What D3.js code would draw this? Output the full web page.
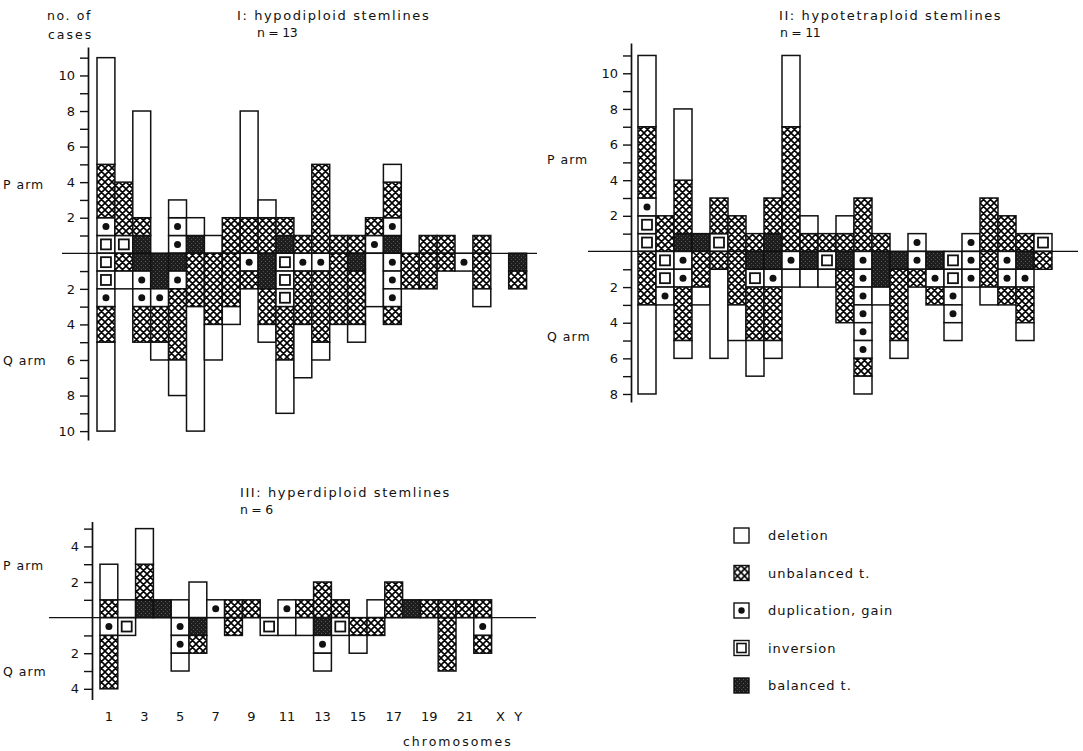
<!DOCTYPE html>
<html>
<head>
<meta charset="utf-8">
<style>
    body{ margin:0; background:#fff; }
    svg text{ font-family: "DejaVu Sans", sans-serif; fill:#111; }
    .lbl{ font-size:12.5px; letter-spacing:1px; }
    .ttl{ font-size:13px; letter-spacing:1.6px; }
    .tick text{ font-size:13px; }
</style>
</head>
<body>
<script src="https://d3js.org/d3.v7.min.js"></script>
<script>
// chromosome categories
var chromosomes = ["1","2","3","4","5","6","7","8","9","10","11","12","13","14","15","16","17","18","19","20","21","22","X","Y"];
var chromLabels = ["1","","3","","5","","7","","9","","11","","13","","15","","17","","19","","21","","X","Y"];

// one letter per case, from the centre line outwards
// D = deletion, U = unbalanced t., G = duplication/gain, I = inversion, B = balanced t.
var hypoP  = ["IGUUUDDDDDD","IUUU","BUDDDDDD","","GGD","BD","D","UU","UUDDDDDD","UUD","BU","U",
              "UUUUU","U","U","GU","BGUUD","","U","U","","U","",""];
var hypoQ  = ["IIGUUDDDDD","UD","BGGUU","BBGUUD","BGUUUUDD","UUUDDDDDDD","UUUUDD","UUUD","GU","BBUUD","IIIUUUDDD","GUUUDDD",
              "GUUUUD","UUUU","BUUUD","DDD","GGGU","UU","UU","U","G","UUD","","BU"];

var tetraP = ["IIGUUUUDDDD","UU","BUUUDDDD","B","IUU","UU","U","BUU","UUUUUUUDDDD","UD","U","UD",
              "UUU","U","","G","","","G","UUU","UU","U","I",""];
var tetraQ = ["UUUDDDDD","IIG","GGUUUD","UUD","UDDDDD","UUUDD","BIUUUDD","BGUUUD","GD","BD","ID","BUUU",
              "GGGGGGUD","BBD","BUUUUD","GU","BGU","IIGGD","GG","UUD","GGU","BGUUD","U",""];

var hyperP = ["UDD","D","BUUDD","B","D","DD","G","U","U","","G","U",
              "UU","U","","D","UU","B","U","U","U","U","",""];
var hyperQ = ["GUUU","I","","","GGD","BU","","U","","I","D","D",
              "BGD","I","UD","U","","","","UUU","","GU","",""];

var legendTypes  = ["D","U","G","I","B"];
var legendLabels = ["deletion","unbalanced t.","duplication, gain","inversion","balanced t."];

var svg = d3.select("body").append("svg")
    .attr("width", 1083)
    .attr("height", 751);

// patterns
var defs = svg.append("defs");
var hatch = defs.append("pattern")
    .attr("id", "hatch")
    .attr("patternUnits", "userSpaceOnUse")
    .attr("width", 7).attr("height", 7);
hatch.append("rect").attr("width", 7).attr("height", 7).attr("fill", "#fff");
hatch.append("path").attr("d", "M0,0 L7,7 M7,0 L0,7 M-1,6 L1,8 M6,-1 L8,1 M-1,1 L1,-1 M6,8 L8,6")
    .attr("stroke", "#000").attr("stroke-width", 1.6);

var dark = defs.append("pattern")
    .attr("id", "dark")
    .attr("patternUnits", "userSpaceOnUse")
    .attr("width", 4).attr("height", 4);
dark.append("rect").attr("width", 4).attr("height", 4).attr("fill", "#1e1e1e");
dark.append("rect").attr("x", 1).attr("y", 1).attr("width", 1).attr("height", 1).attr("fill", "#5a5a5a");
dark.append("rect").attr("x", 3).attr("y", 3).attr("width", 1).attr("height", 1).attr("fill", "#4a4a4a");

function fillFor(t){
    if (t === "U") return "url(#hatch)";
    if (t === "B") return "url(#dark)";
    return "#fff";
}

// merge runs of D/U/B, keep G and I as single boxes
function segments(str){
    var out = [];
    for (var i = 0; i < str.length; i++){
        var t = str[i];
        var last = out[out.length - 1];
        if (last && last.type === t && (t === "D" || t === "U" || t === "B")) last.end = i + 1;
        else out.push({type: t, start: i, end: i + 1});
    }
    return out;
}

function drawPanel(cfg){
    var x = d3.scaleBand().domain(chromosomes).range(cfg.xRange).padding(0);
    var y = d3.scaleLinear().domain(cfg.yDomain).range(cfg.yRange);
    var g = svg.append("g");

    var cells = [];
    chromosomes.forEach(function(c, i){
        segments(cfg.p[i]).forEach(function(s){ cells.push({chr: c, type: s.type, a: s.start, b: s.end}); });
        segments(cfg.q[i]).forEach(function(s){ cells.push({chr: c, type: s.type, a: -s.end, b: -s.start}); });
    });

    g.selectAll("rect.cell")
        .data(cells)
        .enter()
        .append("rect")
            .attr("class", "cell")
            .attr("x", d => x(d.chr))
            .attr("width", x.bandwidth())
            .attr("y", d => y(d.b))
            .attr("height", d => y(d.a) - y(d.b))
            .attr("fill", d => fillFor(d.type))
            .attr("stroke", "#111")
            .attr("stroke-width", 1.5);

    // dots for gains
    g.selectAll("circle")
        .data(cells.filter(d => d.type === "G"))
        .enter()
        .append("circle")
            .attr("cx", d => x(d.chr) + x.bandwidth() / 2)
            .attr("cy", d => y((d.a + d.b) / 2))
            .attr("r", 3.5)
            .attr("fill", "#111");

    // little squares for inversions
    g.selectAll("rect.inv")
        .data(cells.filter(d => d.type === "I"))
        .enter()
        .append("rect")
            .attr("class", "inv")
            .attr("x", d => x(d.chr) + x.bandwidth() / 2 - 5)
            .attr("y", d => y((d.a + d.b) / 2) - 5)
            .attr("width", 10).attr("height", 10)
            .attr("fill", "#fff")
            .attr("stroke", "#111")
            .attr("stroke-width", 1.8);

    // centre line
    g.append("line")
        .attr("x1", cfg.zeroLine[0]).attr("x2", cfg.zeroLine[1])
        .attr("y1", y(0)).attr("y2", y(0))
        .attr("stroke", "#111").attr("stroke-width", 1.3);

    // y axis
    var ax = g.append("g")
        .attr("transform", "translate(" + cfg.axisX + ",0)")
        .call(d3.axisLeft(y)
            .tickValues(cfg.ticks)
            .tickFormat(d => d % 2 === 0 ? Math.abs(d) : "")
            .tickSize(8)
            .tickSizeOuter(0)
            .tickPadding(5));
    ax.select(".domain").attr("stroke", "#111").attr("stroke-width", 1.7);
    ax.selectAll(".tick line").attr("stroke", "#111").attr("stroke-width", 1.4);
    ax.selectAll(".tick text").attr("fill", "#111");

    g.append("text").attr("class", "lbl").attr("x", cfg.armX).attr("y", y(cfg.pArmAt)).text("P arm");
    g.append("text").attr("class", "lbl").attr("x", cfg.armX).attr("y", y(cfg.qArmAt)).text("Q arm");
    g.append("text").attr("class", "ttl").attr("x", cfg.titleX).attr("y", cfg.titleY).text(cfg.title);
    g.append("text").attr("class", "lbl").attr("x", cfg.nX).attr("y", cfg.titleY + 17)
        .style("letter-spacing", "-0.3px").text(cfg.n);

    return {x: x, y: y};
}

drawPanel({
    p: hypoP, q: hypoQ,
    xRange: [97, 526.6], yDomain: [-10.5, 11.6], yRange: [440, 47],
    ticks: [-10,-9,-8,-7,-6,-5,-4,-3,-2,-1,1,2,3,4,5,6,7,8,9,10,11],
    axisX: 88, zeroLine: [62, 537], armX: 3, pArmAt: 3.6, qArmAt: -6.3,
    title: "I: hypodiploid stemlines", titleX: 237, titleY: 20, n: "n = 13", nX: 257
});

drawPanel({
    p: tetraP, q: tetraQ,
    xRange: [638, 1070], yDomain: [-8.45, 11.7], yRange: [402, 43],
    ticks: [-8,-7,-6,-5,-4,-3,-2,-1,1,2,3,4,5,6,7,8,9,10,11],
    axisX: 631, zeroLine: [588, 1078], armX: 547, pArmAt: 4.9, qArmAt: -5.0,
    title: "II: hypotetraploid stemlines", titleX: 779, titleY: 20, n: "n = 11", nX: 780
});

var p3 = drawPanel({
    p: hyperP, q: hyperQ,
    xRange: [100, 527.2], yDomain: [-4.6, 5.4], yRange: [699.5, 521.5],
    ticks: [-4,-3,-2,-1,1,2,3,4,5],
    axisX: 92, zeroLine: [49, 536], armX: 3, pArmAt: 2.7, qArmAt: -3.3,
    title: "III: hyperdiploid stemlines", titleX: 240, titleY: 497, n: "n = 6", nX: 240
});

// "no. of cases" label on first panel
svg.append("text").attr("class", "lbl").attr("x", 47).attr("y", 20).style("letter-spacing", "1.6px").text("no. of");
svg.append("text").attr("class", "lbl").attr("x", 48).attr("y", 39).style("letter-spacing", "2px").text("cases");

// chromosome labels under panel III
svg.append("g")
    .attr("transform", "translate(0,706)")
    .call(d3.axisBottom(p3.x).tickFormat((d, i) => chromLabels[i]).tickSize(0).tickPadding(6))
    .call(g => g.select(".domain").remove())
    .selectAll("text")
        .attr("font-size", 12.5)
        .attr("fill", "#111");

svg.append("text").attr("class", "lbl").attr("x", 403).attr("y", 746)
    .style("letter-spacing", "2px").text("chromosomes");

// legend
var legend = svg.append("g").selectAll("g")
    .data(legendTypes)
    .enter()
    .append("g")
    .attr("transform", (d, i) => "translate(734," + (528 + i * 37.5) + ")");

legend.append("rect")
    .attr("width", 15).attr("height", 15)
    .attr("fill", d => fillFor(d))
    .attr("stroke", "#111").attr("stroke-width", 1.4);
legend.filter(d => d === "G").append("circle")
    .attr("cx", 7.5).attr("cy", 7.5).attr("r", 3.2).attr("fill", "#111");
legend.filter(d => d === "I").append("rect")
    .attr("x", 3).attr("y", 3).attr("width", 9).attr("height", 9)
    .attr("fill", "#fff").attr("stroke", "#111").attr("stroke-width", 1.6);
legend.append("text")
    .attr("class", "lbl")
    .attr("x", 34).attr("y", 12)
    .style("font-size", "13px")
    .style("letter-spacing", "1px")
    .text((d, i) => legendLabels[i]);
</script>
</body>
</html>
